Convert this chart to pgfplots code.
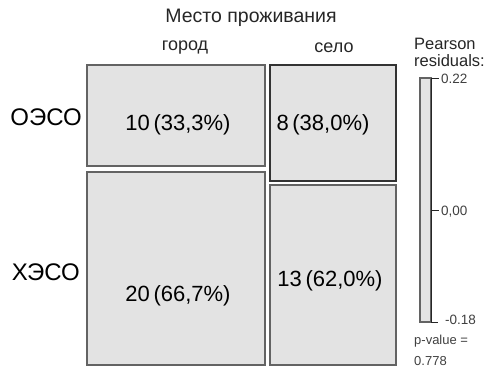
\documentclass[border=0pt]{standalone}
\usepackage{pgfplots}
\pgfplotsset{compat=1.18}
\usepackage{fontspec}
\setmainfont{Liberation Sans}
\definecolor{cellfill}{HTML}{E3E3E3}
\definecolor{cellline}{HTML}{636363}
\begin{document}
\begin{tikzpicture}
\begin{axis}[
  at={(0pt,0pt)}, anchor=south west,
  width=503pt, height=375pt, scale only axis,
  xmin=0, xmax=503, ymin=0, ymax=375, y dir=reverse,
  hide axis, clip=false,
]
% mosaic cells (pixel coordinates): город/ОЭСО=10, село/ОЭСО=8, город/ХЭСО=20, село/ХЭСО=13
\addplot[fill=cellfill, draw=cellline, line width=1.4pt] coordinates {(87,65) (265,65) (265,166) (87,166)} --cycle;
\addplot[fill=cellfill, draw=cellline, line width=1.4pt] coordinates {(87,172) (265,172) (265,365) (87,365)} --cycle;
\addplot[fill=cellfill, draw=black!80, line width=1.1pt] coordinates {(270,65) (396,65) (396,181) (270,181)} --cycle;
\addplot[fill=cellfill, draw=cellline, line width=1.4pt] coordinates {(270,185) (396,185) (396,365) (270,365)} --cycle;
% legend bar
\addplot[fill=cellfill, draw=cellline, line width=1.2pt] coordinates {(420,78) (431,78) (431,322) (420,322)} --cycle;
\addplot[draw=black!85, line width=1pt] coordinates {(431,78) (431,322)};
\addplot[draw=black!85, line width=0.9pt] coordinates {(431,78) (439,78)};
\addplot[draw=black!85, line width=0.9pt] coordinates {(431,210) (439,210)};
\addplot[draw=black!85, line width=0.9pt] coordinates {(431,322) (438,322)};
% texts
\node[font=\fontsize{19.5}{21}\selectfont, text=black!85] at (axis cs:251,18) {Место проживания};
\node[font=\fontsize{18}{20}\selectfont, text=black!85] at (axis cs:185,48) {город};
\node[font=\fontsize{18}{20}\selectfont, text=black!85] at (axis cs:334,48) {село};
\node[font=\fontsize{24}{26}\selectfont, anchor=east, inner sep=0pt] at (axis cs:82,117) {ОЭСО};
\node[font=\fontsize{24}{26}\selectfont, anchor=east, inner sep=0pt] at (axis cs:80,272) {ХЭСО};
\node[font=\fontsize{22}{24}\selectfont] at (axis cs:178,125) {10\,(33,3\%)};
\node[font=\fontsize{22}{24}\selectfont] at (axis cs:323,125) {8\,(38,0\%)};
\node[font=\fontsize{22}{24}\selectfont] at (axis cs:178,296) {20\,(66,7\%)};
\node[font=\fontsize{22}{24}\selectfont] at (axis cs:330,281) {13\,(62,0\%)};
\node[font=\fontsize{16.5}{18}\selectfont, anchor=west, inner sep=0pt, text=black!85] at (axis cs:414,44) {Pearson};
\node[font=\fontsize{16.5}{18}\selectfont, anchor=west, inner sep=0pt, text=black!85] at (axis cs:414,61) {residuals:};
\node[font=\fontsize{13.5}{15}\selectfont, anchor=west, inner sep=0pt, text=black!75] at (axis cs:441,79) {0.22};
\node[font=\fontsize{13.5}{15}\selectfont, anchor=west, inner sep=0pt, text=black!75] at (axis cs:441,212) {0,00};
\node[font=\fontsize{13.5}{15}\selectfont, anchor=west, inner sep=0pt, text=black!75] at (axis cs:445,320) {-0.18};
\node[font=\fontsize{13}{14}\selectfont, anchor=west, inner sep=0pt, text=black!75] at (axis cs:414,341) {p-value =};
\node[font=\fontsize{13}{14}\selectfont, anchor=west, inner sep=0pt, text=black!75] at (axis cs:414,361) {0.778};
\end{axis}
\pgfresetboundingbox
\path[use as bounding box] (0pt,0pt) rectangle (503pt,375pt);
\end{tikzpicture}
\end{document}
